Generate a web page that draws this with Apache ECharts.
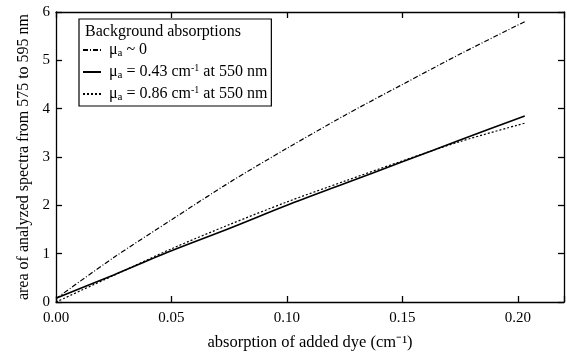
<!DOCTYPE html>
<html>
<head>
<meta charset="utf-8">
<script src="https://cdn.jsdelivr.net/npm/echarts@6/dist/echarts.min.js"></script>
<style>html,body{margin:0;padding:0;background:#fff}#c{width:567px;height:356px}</style>
</head>
<body>
<div id="c"></div>
<script>
var xValues = [0, 0.025, 0.05, 0.075, 0.1, 0.125, 0.15, 0.175, 0.203];
var seriesNames = ['mu0', 'mu043', 'mu086'];
var areaMu0 = [0.07, 0.92, 1.70, 2.47, 3.18, 3.86, 4.50, 5.13, 5.80];
var areaMu043 = [0.08, 0.56, 1.06, 1.52, 2.00, 2.45, 2.90, 3.35, 3.85];
var areaMu086 = [0.00, 0.55, 1.10, 1.60, 2.07, 2.50, 2.92, 3.32, 3.70];
var xTicks = [0, 0.05, 0.10, 0.15, 0.20];
var yTicks = [0, 1, 2, 3, 4, 5, 6];

function pairs(ys){ return xValues.map(function(x,i){ return [x, ys[i]]; }); }
var font = 'Liberation Serif';
var chart = echarts.init(document.getElementById('c'));
var axisCommon = {
  axisLine: {show: true, onZero: false, lineStyle: {color: '#000', width: 1.3}},
  axisTick: {show: true, inside: true, length: 6, lineStyle: {color: '#000', width: 1.3}},
  splitLine: {show: false}
};
chart.setOption({
  animation: false,
  grid: {left: 56, right: 2, top: 12, bottom: 51},
  title: {text: 'Background absorptions', left: 80, top: 19,
    textStyle: {fontFamily: font, fontSize: 16, fontWeight: 'normal', color: '#000'}},
  legend: {
    orient: 'vertical', left: 79, top: 19,
    padding: [23, 4, 3, 3], itemGap: 4, itemWidth: 18, itemHeight: 16,
    borderColor: '#000', borderWidth: 1.2, backgroundColor: '#fff',
    data: seriesNames,
    itemStyle: {opacity: 0},
    formatter: function(n){
      if (n === 'mu0') return '{m|μ}{s|a}{t| ~ 0}';
      if (n === 'mu043') return '{m|μ}{s|a}{t| = 0.43 cm}{p|-1}{t| at 550 nm}';
      return '{m|μ}{s|a}{t| = 0.86 cm}{p|-1}{t| at 550 nm}';
    },
    textStyle: {fontFamily: font, fontSize: 16, color: '#000', padding: [0,0,0,3],
      rich: {
        m: {fontFamily: font, fontSize: 16, color: '#000'},
        t: {fontFamily: font, fontSize: 16, color: '#000'},
        s: {fontFamily: font, fontSize: 11, color: '#000', verticalAlign: 'bottom', padding: [7,0,0,0]},
        p: {fontFamily: font, fontSize: 10, color: '#000', verticalAlign: 'top', padding: [0,0,8,0]}
      }}
  },
  xAxis: [
    Object.assign({type: 'value', min: 0, max: 0.22, interval: 0.05, position: 'bottom',
      name: 'absorption of added dye (cm⁻¹)', nameLocation: 'middle', nameGap: 32,
      nameTextStyle: {fontFamily: font, fontSize: 16.5, color: '#000'},
      axisLabel: {fontFamily: font, fontSize: 15, color: '#000', margin: 9,
        formatter: function(v){ return xTicks.indexOf(Math.round(v*100)/100) >= 0 ? v.toFixed(2) : ''; }}
    }, axisCommon),
    Object.assign({type: 'value', min: 0, max: 0.22, interval: 0.05, position: 'top',
      axisLabel: {show: false}}, axisCommon)
  ],
  yAxis: [
    Object.assign({type: 'value', min: 0, max: 6, interval: 1, position: 'left',
      name: 'area of analyzed spectra from 575 to 595 nm', nameLocation: 'middle', nameGap: 24,
      nameTextStyle: {fontFamily: font, fontSize: 16, color: '#000'},
      axisLabel: {fontFamily: font, fontSize: 15, color: '#000', margin: 6,
        formatter: function(v){ return yTicks.indexOf(v) >= 0 ? String(v) : ''; }}
    }, axisCommon),
    Object.assign({type: 'value', min: 0, max: 6, interval: 1, position: 'right',
      axisLabel: {show: false}}, axisCommon)
  ],
  series: [
    {name: 'mu0', type: 'line', data: pairs(areaMu0), symbol: 'none', smooth: 0.3,
      lineStyle: {color: '#000', width: 1.2, type: [5, 2, 1, 2]}, itemStyle: {color: '#000'}},
    {name: 'mu043', type: 'line', data: pairs(areaMu043), symbol: 'none', smooth: 0.3,
      lineStyle: {color: '#000', width: 1.6, type: 'solid'}, itemStyle: {color: '#000'}},
    {name: 'mu086', type: 'line', data: pairs(areaMu086), symbol: 'none', smooth: 0.3,
      lineStyle: {color: '#000', width: 1.2, type: [2, 2]}, itemStyle: {color: '#000'}}
  ]
});
</script>
</body>
</html>
